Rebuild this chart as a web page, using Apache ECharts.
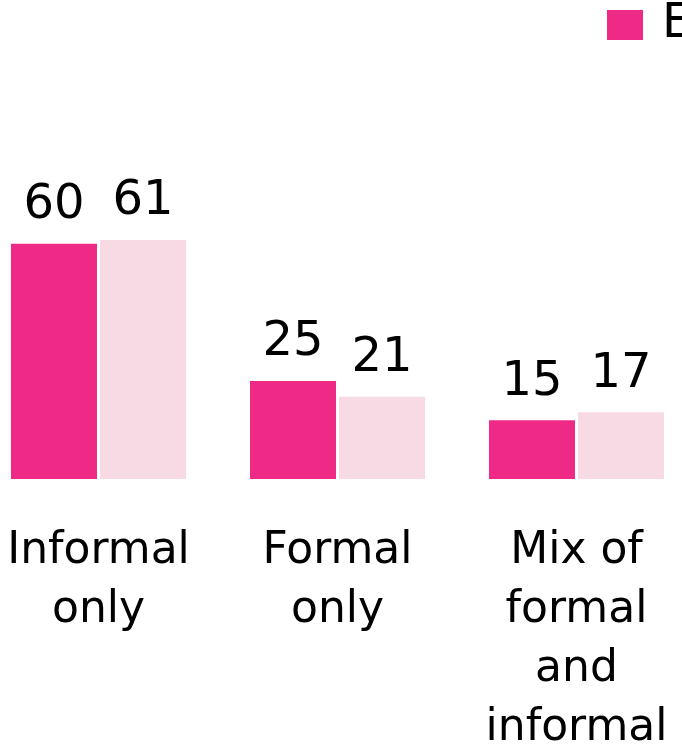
<!DOCTYPE html>
<html>
<head>
<meta charset="utf-8">
<script src="https://cdn.jsdelivr.net/npm/echarts@6/dist/echarts.min.js"></script>
<style>
html,body{margin:0;padding:0;background:#fff;overflow:hidden;width:682px;height:744px;}
#main{width:717px;height:744px;margin-left:-21px;}
</style>
</head>
<body>
<div id="main"></div>
<script>
var categories = ['Informal\nonly', 'Formal\nonly', 'Mix of\nformal\nand\ninformal'];
var seriesNames = ['England', 'Wales'];
var seriesA = [60, 25, 15];
var seriesB = [61, 21, 17];

var chart = echarts.init(document.getElementById('main'), null, {renderer: 'canvas'});
var font = 'DejaVu Sans, sans-serif';
var labelStyle = {
  show: true,
  position: 'top',
  distance: 14,
  fontSize: 48,
  fontFamily: font,
  color: '#000'
};
chart.setOption({
  animation: false,
  backgroundColor: '#fff',
  legend: {
    orient: 'horizontal',
    left: 623,
    top: -4,
    width: 2000,
    itemWidth: 36,
    itemHeight: 30,
    itemGap: 40,
    icon: 'rect',
    textStyle: {fontSize: 48, fontFamily: font, color: '#000', padding: [0, 0, 0, 14]},
    data: seriesNames
  },
  grid: {left: 0, right: 0, top: 87, bottom: 265, containLabel: false, outerBoundsMode: 'none'},
  xAxis: {
    type: 'category',
    data: categories,
    axisLine: {show: false},
    axisTick: {show: false},
    axisLabel: {
      fontSize: 44,
      fontFamily: font,
      color: '#000',
      lineHeight: 59,
      margin: 43,
      interval: 0
    }
  },
  yAxis: {
    type: 'value',
    min: 0,
    max: 100,
    show: false,
    splitLine: {show: false}
  },
  series: [
    {
      name: seriesNames[0],
      type: 'bar',
      data: seriesA,
      barWidth: 86,
      barGap: '3.5%',
      itemStyle: {color: '#EE2A86'},
      label: labelStyle
    },
    {
      name: seriesNames[1],
      type: 'bar',
      data: seriesB,
      barWidth: 86,
      barGap: '3.5%',
      itemStyle: {color: '#F8DAE5'},
      label: labelStyle
    }
  ]
});
</script>
</body>
</html>
